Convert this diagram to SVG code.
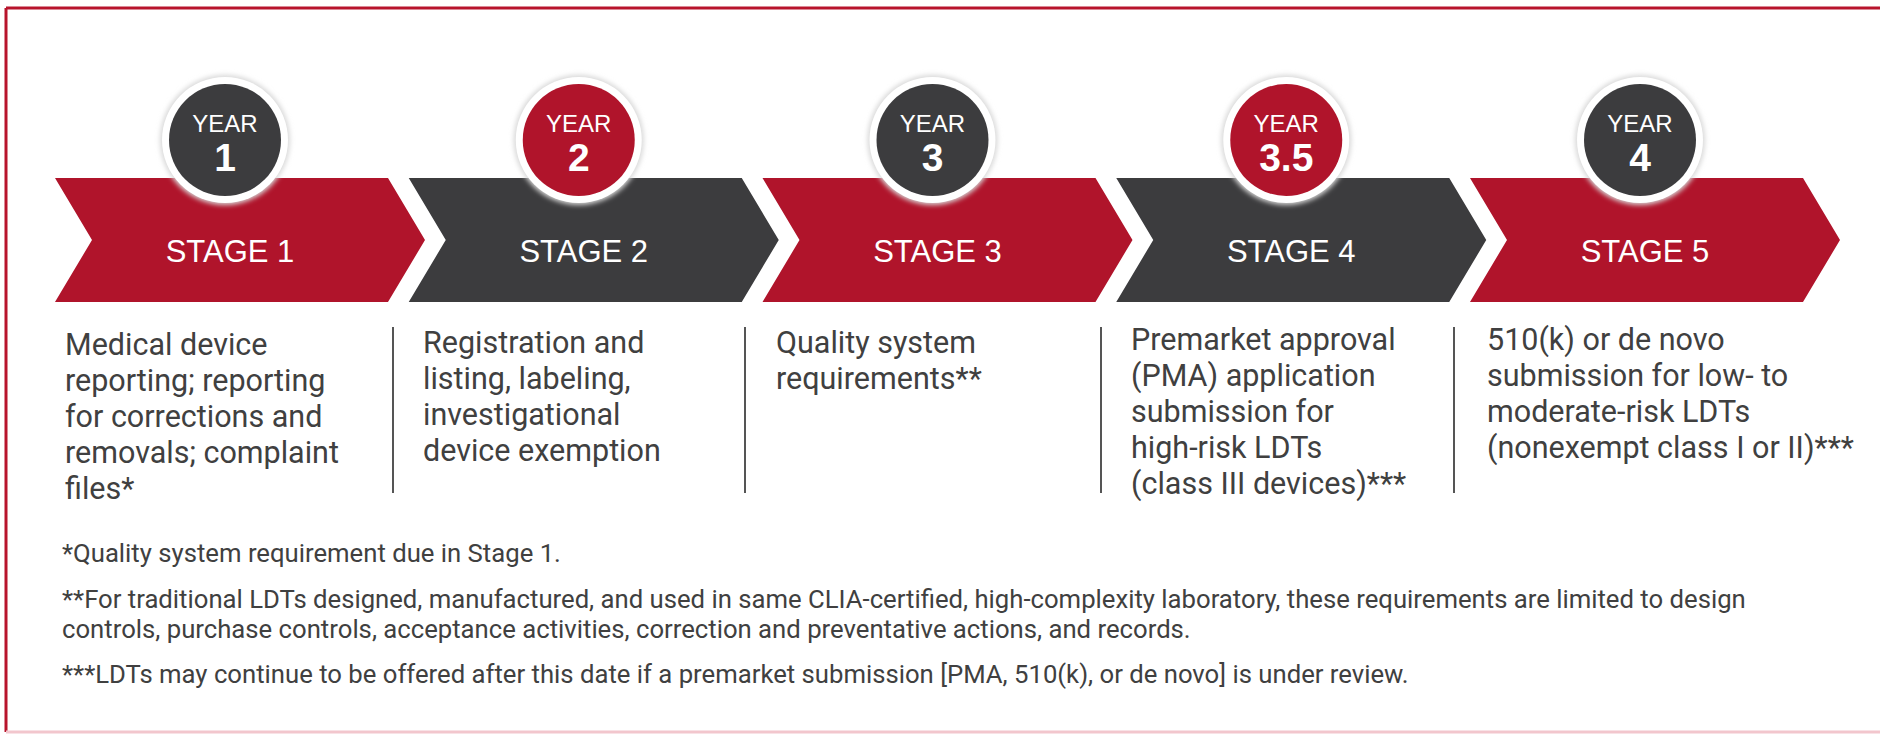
<svg xmlns="http://www.w3.org/2000/svg" width="1880" height="734" viewBox="0 0 1880 734">
  <defs>
    <style>
      .red { fill: #b0142b; }
      .dark { fill: #3c3c3e; }
      .stage { font-family: "Liberation Sans", Arial, sans-serif; font-size: 31px; fill: #ffffff; text-anchor: middle; }
      .year { font-family: "Liberation Sans", Arial, sans-serif; font-size: 24px; fill: #ffffff; text-anchor: middle; }
      .num { font-family: "Liberation Sans", Arial, sans-serif; font-size: 39px; font-weight: bold; fill: #ffffff; text-anchor: middle; }
      .desc { font-family: Roboto, "Liberation Sans", sans-serif; font-size: 30.5px; fill: #404040; }
      .note { font-family: Roboto, "Liberation Sans", sans-serif; font-size: 25.7px; fill: #404040; }
      .divider { stroke: #555555; stroke-width: 2; }
      .ring { fill: #ffffff; }
      .halo { fill: #d8d8d8; filter: url(#soft); }
    </style>
    <filter id="soft" x="-20%" y="-20%" width="140%" height="140%">
      <feGaussianBlur stdDeviation="2.5"/>
    </filter>
    <polygon id="chev" points="0,178 333,178 370,240 333,302 0,302 37,240"/>
  </defs>

  <!-- page background and frame -->
  <rect x="0" y="0" width="1880" height="734" fill="#ffffff"/>
  <line x1="6" y1="8" x2="1880" y2="8" stroke="#b8142c" stroke-width="3"/>
  <line x1="6" y1="8" x2="6" y2="732" stroke="#b8142c" stroke-width="3"/>
  <line x1="6" y1="732" x2="1880" y2="732" stroke="#f2c6cd" stroke-width="3"/>

  <!-- stage arrows -->
  <g id="stage1">
    <use href="#chev" x="55" class="red"/>
    <text class="stage" x="230" y="262">STAGE 1</text>
  </g>
  <g id="stage2">
    <use href="#chev" x="408.75" class="dark"/>
    <text class="stage" x="583.75" y="262">STAGE 2</text>
  </g>
  <g id="stage3">
    <use href="#chev" x="762.5" class="red"/>
    <text class="stage" x="937.5" y="262">STAGE 3</text>
  </g>
  <g id="stage4">
    <use href="#chev" x="1116.25" class="dark"/>
    <text class="stage" x="1291.25" y="262">STAGE 4</text>
  </g>
  <g id="stage5">
    <use href="#chev" x="1470" class="red"/>
    <text class="stage" x="1645" y="262">STAGE 5</text>
  </g>

  <!-- year badges -->
  <g id="year1">
    <circle class="halo" cx="225" cy="140" r="65"/>
    <circle class="ring" cx="225" cy="140" r="63"/>
    <circle class="dark" cx="225" cy="140" r="56"/>
    <text class="year" x="225" y="132">YEAR</text>
    <text class="num" x="225" y="171">1</text>
  </g>
  <g id="year2">
    <circle class="halo" cx="578.75" cy="140" r="65"/>
    <circle class="ring" cx="578.75" cy="140" r="63"/>
    <circle class="red" cx="578.75" cy="140" r="56"/>
    <text class="year" x="578.75" y="132">YEAR</text>
    <text class="num" x="578.75" y="171">2</text>
  </g>
  <g id="year3">
    <circle class="halo" cx="932.5" cy="140" r="65"/>
    <circle class="ring" cx="932.5" cy="140" r="63"/>
    <circle class="dark" cx="932.5" cy="140" r="56"/>
    <text class="year" x="932.5" y="132">YEAR</text>
    <text class="num" x="932.5" y="171">3</text>
  </g>
  <g id="year3_5">
    <circle class="halo" cx="1286.25" cy="140" r="65"/>
    <circle class="ring" cx="1286.25" cy="140" r="63"/>
    <circle class="red" cx="1286.25" cy="140" r="56"/>
    <text class="year" x="1286.25" y="132">YEAR</text>
    <text class="num" x="1286.25" y="171">3.5</text>
  </g>
  <g id="year4">
    <circle class="halo" cx="1640" cy="140" r="65"/>
    <circle class="ring" cx="1640" cy="140" r="63"/>
    <circle class="dark" cx="1640" cy="140" r="56"/>
    <text class="year" x="1640" y="132">YEAR</text>
    <text class="num" x="1640" y="171">4</text>
  </g>

  <!-- column dividers -->
  <g id="dividers">
    <line class="divider" x1="393" y1="327" x2="393" y2="493"/>
    <line class="divider" x1="745" y1="327" x2="745" y2="493"/>
    <line class="divider" x1="1101" y1="327" x2="1101" y2="493"/>
    <line class="divider" x1="1454" y1="327" x2="1454" y2="493"/>
  </g>

  <!-- stage requirements -->
  <g id="desc1">
    <text class="desc" x="65" y="355">Medical device</text>
    <text class="desc" x="65" y="391">reporting; reporting</text>
    <text class="desc" x="65" y="427">for corrections and</text>
    <text class="desc" x="65" y="463">removals; complaint</text>
    <text class="desc" x="65" y="499">files*</text>
  </g>
  <g id="desc2">
    <text class="desc" x="423" y="353">Registration and</text>
    <text class="desc" x="423" y="389">listing, labeling,</text>
    <text class="desc" x="423" y="425">investigational</text>
    <text class="desc" x="423" y="461">device exemption</text>
  </g>
  <g id="desc3">
    <text class="desc" x="776" y="353">Quality system</text>
    <text class="desc" x="776" y="389">requirements**</text>
  </g>
  <g id="desc4">
    <text class="desc" x="1131" y="350">Premarket approval</text>
    <text class="desc" x="1131" y="386">(PMA) application</text>
    <text class="desc" x="1131" y="422">submission for</text>
    <text class="desc" x="1131" y="458">high-risk LDTs</text>
    <text class="desc" x="1131" y="494">(class III devices)***</text>
  </g>
  <g id="desc5">
    <text class="desc" x="1487" y="350">510(k) or de novo</text>
    <text class="desc" x="1487" y="386">submission for low- to</text>
    <text class="desc" x="1487" y="422">moderate-risk LDTs</text>
    <text class="desc" x="1487" y="458">(nonexempt class I or II)***</text>
  </g>

  <!-- footnotes -->
  <g id="footnotes">
    <text class="note" x="62" y="562">*Quality system requirement due in Stage 1.</text>
    <text class="note" x="62" y="608">**For traditional LDTs designed, manufactured, and used in same CLIA-certified, high-complexity laboratory, these requirements are limited to design</text>
    <text class="note" x="62" y="638">controls, purchase controls, acceptance activities, correction and preventative actions, and records.</text>
    <text class="note" x="62" y="683">***LDTs may continue to be offered after this date if a premarket submission [PMA, 510(k), or de novo] is under review.</text>
  </g>
</svg>
